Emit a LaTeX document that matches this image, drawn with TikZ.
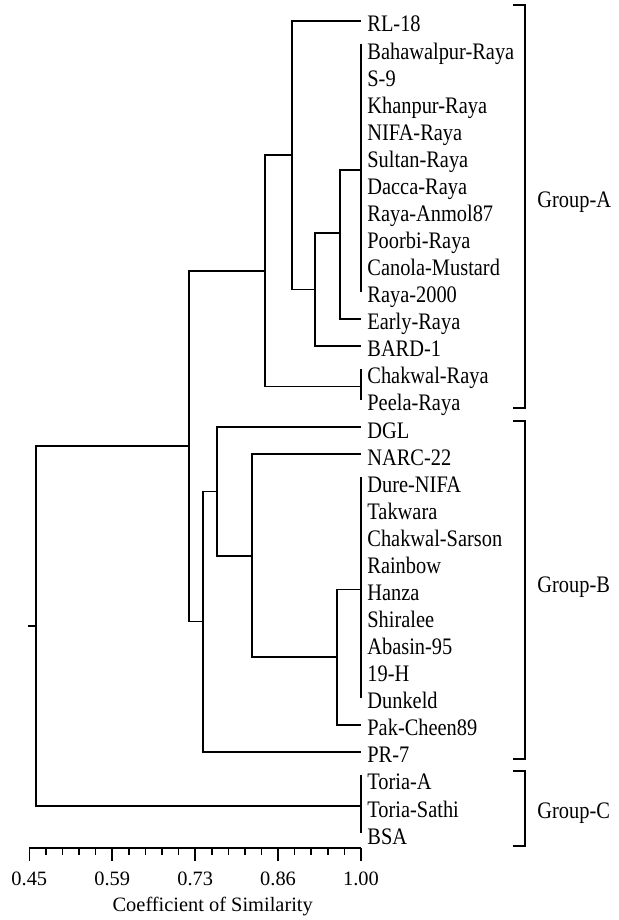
\documentclass[tikz,border=0pt]{standalone}
\usepackage{fontspec}
\setmainfont{Liberation Serif}
\usepackage{tikz}
\usetikzlibrary{positioning,calc}
\newcommand{\dgtall}[1]{\scalebox{1}[1.16]{#1}}
\tikzset{
  dgline/.style={draw=black,line width=0.8pt},
  dgleaf/.style={anchor=base west,inner sep=0pt,font=\fontsize{10.2}{12}\selectfont},
  dggroup/.style={dgleaf},
  dgtick/.style={anchor=base,inner sep=0pt,font=\fontsize{10.2}{12}\selectfont},
}
\begin{document}
\begin{tikzpicture}[x=0.5pt,y=-0.5pt]
  \useasboundingbox (0,0) rectangle (619,920);

  \foreach \lbl [count=\i from 0] in {RL-18,Bahawalpur-Raya,S-9,Khanpur-Raya,NIFA-Raya,Sultan-Raya,Dacca-Raya,Raya-Anmol87,Poorbi-Raya,Canola-Mustard,Raya-2000,Early-Raya,BARD-1,Chakwal-Raya,Peela-Raya,DGL,NARC-22,Dure-NIFA,Takwara,Chakwal-Sarson,Rainbow,Hanza,Shiralee,Abasin-95,19-H,Dunkeld,Pak-Cheen89,PR-7,Toria-A,Toria-Sathi,BSA}{
    \coordinate (l\i) at (361,{21+27.07*\i});
    \node[dgleaf] (t\i) at ([shift={(6,11)}]l\i) {\dgtall{\lbl}};
  }

  \coordinate (a1) at (361,169.9);
  \coordinate (a2) at (340,233);
  \coordinate (a3) at (315,289.4);
  \coordinate (a4) at (292,155.2);
  \coordinate (a5) at (361,386.5);
  \coordinate (a6) at (265,270.8);
  \coordinate (b1) at (361,589.5);
  \coordinate (b2) at (337,657.2);
  \coordinate (b3) at (252,555.7);
  \coordinate (b4) at (217,491.3);
  \coordinate (b5) at (203,621.6);
  \coordinate (ab) at (189,446.2);
  \coordinate (c1) at (361,806);
  \coordinate (rt) at (36,626.1);
  \coordinate (st) at (28,626.1);

  \foreach \a/\b in {l1/l10,l13/l14,l17/l25,l28/l30}{\draw[dgline] ([yshift=2pt]\a) -- (\b);}
  \foreach \p/\q/\j in {a1/l11/a2,a2/l12/a3,l0/a3/a4,a4/a5/a6,b1/l26/b2,l16/b2/b3,l15/b3/b4,b4/l27/b5,a6/b5/ab,ab/c1/rt}{\draw[dgline] (\p) -| (\j) |- (\q);}
  \draw[dgline] (st) -- (rt);

  \coordinate (gA1) at (513,5);   \coordinate (gA2) at (513,408);
  \coordinate (gB1) at (513,421); \coordinate (gB2) at (513,759);
  \coordinate (gC1) at (513,771); \coordinate (gC2) at (513,846);
  \foreach \g in {A,B,C}{\draw[dgline] (g\g1) -- ++(12,0) |- (g\g2);}
  \node[dggroup] (GA) at (537,207) {\dgtall{Group-A}};
  \node[dggroup] (GB) at (537,592) {\dgtall{Group-B}};
  \node[dggroup] (GC) at (537,818) {\dgtall{Group-C}};

  \coordinate (ax0) at (29.3,848);
  \coordinate (ax1) at (361,848);
  \draw[dgline] (ax0) -- (ax1);
  \foreach \k in {0,...,20}{\draw[dgline] ($(ax0)!\k/20!(ax1)$) -- ++(0,7);}
  \foreach \v [count=\k from 0] in {0.45,0.59,0.73,0.86,1.00}{
    \draw[dgline] ($(ax0)!\k/4!(ax1)$) coordinate (m\k) -- ++(0,13);
    \node[dgtick] (v\k) at ([yshift=-18.5pt]m\k) {\v};
  }
  \node[dgtick] (xlab) at ($(m0)!0.553!(m4)+(0,63)$) {Coefficient of Similarity};
\end{tikzpicture}
\end{document}
